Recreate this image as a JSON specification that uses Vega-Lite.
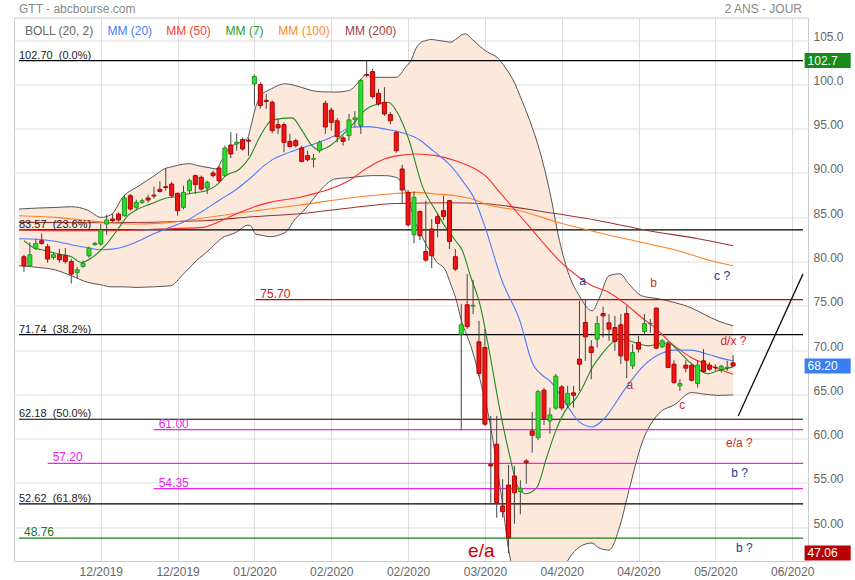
{
"$schema":"https://vega.github.io/schema/vega-lite/v6.json",
"width":855,"height":580,
"autosize":{"type":"fit","contains":"padding"},
"padding":{"left":14,"top":2.5,"right":0,"bottom":3},
"background":"#ffffff",
"config":{"font":"Liberation Sans","view":{"stroke":"#cccccc"}},
"datasets":{
"candles":[
{"i":0,"o":80.54,"h":80.76,"l":78.84,"c":79.52},{"i":1,"o":79.52,"h":82.15,"l":79.40,"c":80.76},{"i":2,"o":81.47,"h":82.54,"l":81.30,"c":82.04},{"i":3,"o":82.34,"h":83.17,"l":81.90,"c":82.04},{"i":4,"o":81.67,"h":82.00,"l":79.86,"c":80.28},{"i":5,"o":80.46,"h":80.99,"l":80.20,"c":80.76},{"i":6,"o":80.76,"h":81.44,"l":79.86,"c":80.19},{"i":7,"o":80.65,"h":81.52,"l":79.74,"c":80.00},{"i":8,"o":80.00,"h":80.31,"l":77.52,"c":78.58},{"i":9,"o":78.76,"h":79.40,"l":78.13,"c":79.07},
{"i":10,"o":79.44,"h":80.10,"l":79.30,"c":79.78},{"i":11,"o":80.65,"h":81.67,"l":80.43,"c":81.52},{"i":12,"o":81.90,"h":82.23,"l":81.78,"c":82.04},{"i":13,"o":81.97,"h":84.23,"l":81.78,"c":83.55},{"i":14,"o":84.23,"h":85.29,"l":83.00,"c":84.69},{"i":15,"o":84.80,"h":85.43,"l":84.40,"c":84.62},{"i":16,"o":85.36,"h":85.55,"l":84.50,"c":84.69},{"i":17,"o":85.17,"h":87.55,"l":85.06,"c":87.17},{"i":18,"o":87.43,"h":87.62,"l":85.74,"c":85.93},{"i":19,"o":86.12,"h":86.98,"l":85.85,"c":86.68},
{"i":20,"o":86.68,"h":87.10,"l":86.50,"c":86.87},{"i":21,"o":87.17,"h":87.55,"l":86.65,"c":86.94},{"i":22,"o":87.50,"h":88.45,"l":87.10,"c":87.40},{"i":23,"o":88.15,"h":89.06,"l":87.80,"c":87.92},{"i":24,"o":88.45,"h":90.56,"l":88.00,"c":88.35},{"i":25,"o":88.75,"h":89.00,"l":87.20,"c":87.43},{"i":26,"o":87.70,"h":87.80,"l":85.17,"c":85.74},{"i":27,"o":86.12,"h":88.56,"l":85.90,"c":87.81},{"i":28,"o":88.00,"h":89.35,"l":87.62,"c":89.13},{"i":29,"o":89.70,"h":89.81,"l":87.62,"c":88.68},
{"i":30,"o":89.51,"h":89.70,"l":88.00,"c":88.19},{"i":31,"o":88.30,"h":89.13,"l":87.62,"c":88.94},{"i":32,"o":90.00,"h":90.26,"l":89.48,"c":89.70},{"i":33,"o":90.56,"h":90.80,"l":88.90,"c":89.13},{"i":34,"o":89.70,"h":93.09,"l":89.58,"c":92.82},{"i":35,"o":93.16,"h":94.60,"l":91.69,"c":92.15},{"i":36,"o":93.28,"h":94.48,"l":92.52,"c":93.47},{"i":37,"o":93.77,"h":93.99,"l":92.52,"c":92.71},{"i":38,"o":93.70,"h":93.96,"l":91.96,"c":93.60},{"i":39,"o":100.06,"h":101.10,"l":97.61,"c":100.89},
{"i":40,"o":99.99,"h":100.24,"l":97.27,"c":97.61},{"i":41,"o":98.20,"h":98.93,"l":97.24,"c":98.08},{"i":42,"o":97.99,"h":98.20,"l":94.48,"c":94.79},{"i":43,"o":95.46,"h":96.10,"l":94.41,"c":95.09},{"i":44,"o":95.46,"h":95.72,"l":92.33,"c":93.46},{"i":45,"o":93.57,"h":94.41,"l":92.86,"c":93.00},{"i":46,"o":93.65,"h":93.88,"l":92.86,"c":93.09},{"i":47,"o":92.83,"h":93.09,"l":91.20,"c":91.31},{"i":48,"o":91.96,"h":92.52,"l":91.31,"c":91.50},{"i":49,"o":91.55,"h":92.15,"l":90.63,"c":91.62},
{"i":50,"o":92.52,"h":93.65,"l":92.29,"c":93.46},{"i":51,"o":97.87,"h":98.18,"l":94.41,"c":95.20},{"i":52,"o":97.10,"h":97.41,"l":94.79,"c":95.72},{"i":53,"o":95.90,"h":96.20,"l":93.46,"c":94.10},{"i":54,"o":93.96,"h":94.22,"l":93.09,"c":93.57},{"i":55,"o":94.22,"h":96.67,"l":93.65,"c":96.00},{"i":56,"o":96.06,"h":96.97,"l":95.20,"c":96.22},{"i":57,"o":95.35,"h":100.63,"l":94.41,"c":100.44},{"i":58,"o":101.10,"h":102.70,"l":100.80,"c":101.05},{"i":59,"o":101.45,"h":101.76,"l":98.40,"c":98.63},
{"i":60,"o":99.00,"h":99.50,"l":97.60,"c":97.80},{"i":61,"o":97.98,"h":99.70,"l":96.45,"c":96.67},{"i":62,"o":96.59,"h":96.90,"l":95.50,"c":95.90},{"i":63,"o":94.59,"h":94.78,"l":92.29,"c":92.52},{"i":64,"o":90.45,"h":90.94,"l":86.56,"c":88.08},{"i":65,"o":87.81,"h":88.08,"l":83.93,"c":84.15},{"i":66,"o":83.02,"h":87.92,"l":82.04,"c":87.24},{"i":67,"o":85.66,"h":85.74,"l":82.42,"c":82.91},{"i":68,"o":81.14,"h":86.87,"l":79.97,"c":80.16},{"i":69,"o":83.67,"h":84.80,"l":79.26,"c":80.65},
{"i":70,"o":85.06,"h":85.28,"l":82.72,"c":84.30},{"i":71,"o":85.74,"h":87.43,"l":84.69,"c":85.10},{"i":72,"o":86.87,"h":86.94,"l":81.41,"c":82.27},{"i":73,"o":80.54,"h":81.41,"l":78.95,"c":79.14},{"i":74,"o":71.79,"h":75.19,"l":60.94,"c":72.85},{"i":75,"o":75.11,"h":78.58,"l":72.39,"c":72.65},{"i":76,"o":74.95,"h":77.90,"l":74.06,"c":75.05},{"i":77,"o":70.92,"h":73.30,"l":67.00,"c":67.34},{"i":78,"o":70.28,"h":72.36,"l":61.43,"c":61.62},{"i":79,"o":57.09,"h":62.55,"l":52.75,"c":56.90},
{"i":80,"o":59.36,"h":62.55,"l":51.06,"c":52.75},{"i":81,"o":52.38,"h":55.40,"l":51.06,"c":51.73},{"i":82,"o":54.75,"h":57.02,"l":47.06,"c":48.80},{"i":83,"o":55.77,"h":56.90,"l":50.38,"c":53.88},{"i":84,"o":54.00,"h":55.29,"l":51.44,"c":54.38},{"i":85,"o":57.47,"h":57.66,"l":54.90,"c":57.28},{"i":86,"o":60.86,"h":63.01,"l":58.41,"c":60.37},{"i":87,"o":60.10,"h":65.50,"l":59.81,"c":65.30},{"i":88,"o":65.46,"h":65.72,"l":61.54,"c":62.30},{"i":89,"o":61.99,"h":63.49,"l":60.55,"c":62.67},
{"i":90,"o":63.43,"h":67.30,"l":63.24,"c":67.05},{"i":91,"o":65.83,"h":66.05,"l":63.20,"c":63.45},{"i":92,"o":63.90,"h":65.95,"l":63.48,"c":65.10},{"i":93,"o":65.16,"h":65.95,"l":63.50,"c":64.89},{"i":94,"o":68.97,"h":75.56,"l":65.38,"c":68.40},{"i":95,"o":73.11,"h":75.64,"l":68.78,"c":71.49},{"i":96,"o":70.36,"h":71.11,"l":66.70,"c":69.71},{"i":97,"o":71.23,"h":73.86,"l":70.28,"c":72.99},{"i":98,"o":74.12,"h":74.88,"l":71.41,"c":73.86},{"i":99,"o":73.07,"h":74.06,"l":71.04,"c":72.36},
{"i":100,"o":72.54,"h":73.86,"l":69.91,"c":70.96},{"i":101,"o":72.85,"h":74.06,"l":68.40,"c":69.34},{"i":102,"o":74.12,"h":75.00,"l":66.82,"c":68.85},{"i":103,"o":68.21,"h":70.66,"l":67.84,"c":69.71},{"i":104,"o":70.85,"h":71.60,"l":69.71,"c":70.10},{"i":105,"o":72.09,"h":74.06,"l":71.79,"c":72.99},{"i":106,"o":72.95,"h":73.49,"l":71.98,"c":73.02},{"i":107,"o":74.73,"h":74.80,"l":70.10,"c":70.21},{"i":108,"o":70.36,"h":71.23,"l":70.21,"c":71.04},{"i":109,"o":70.66,"h":71.04,"l":67.95,"c":68.02},
{"i":110,"o":68.40,"h":68.85,"l":66.21,"c":66.32},{"i":111,"o":65.95,"h":66.70,"l":65.38,"c":66.21},{"i":112,"o":68.29,"h":68.85,"l":67.46,"c":67.95},{"i":113,"o":68.29,"h":68.47,"l":66.43,"c":66.59},{"i":114,"o":66.21,"h":68.78,"l":65.76,"c":68.29},{"i":115,"o":68.78,"h":70.10,"l":67.46,"c":67.57},{"i":116,"o":68.29,"h":68.59,"l":67.65,"c":67.84},{"i":117,"o":68.05,"h":68.40,"l":67.65,"c":68.00},{"i":118,"o":67.79,"h":68.32,"l":67.46,"c":68.17},{"i":119,"o":68.00,"h":68.78,"l":67.65,"c":68.05},
{"i":120,"o":68.55,"h":69.42,"l":68.10,"c":68.20}
],
"band":[
{"i":-0.84,"up":85.93,"lo":79.52},{"i":2.35,"up":86.04,"lo":79.33},{"i":5.19,"up":86.10,"lo":79.07},{"i":8.04,"up":86.19,"lo":78.38},{"i":10.72,"up":85.82,"lo":77.66},{"i":13.07,"up":84.98,"lo":77.36},{"i":14.74,"up":85.29,"lo":77.14},{"i":16.92,"up":87.43,"lo":77.14},{"i":19.10,"up":88.40,"lo":77.07},{"i":20.77,"up":89.13,"lo":77.11},{"i":21.94,"up":89.63,"lo":77.14},{"i":24.12,"up":90.57,"lo":77.22},{"i":24.79,"up":90.66,"lo":77.26},{"i":26.97,"up":91.00,"lo":78.58},{"i":28.14,"up":91.05,"lo":79.37},{"i":29.15,"up":90.88,"lo":80.08},{"i":30.32,"up":90.71,"lo":80.71},{"i":31.49,"up":90.58,"lo":81.41},{"i":32.50,"up":90.45,"lo":82.06},{"i":33.67,"up":91.68,"lo":82.72},{"i":34.84,"up":92.90,"lo":83.02},{"i":35.85,"up":93.26,"lo":83.28},{"i":36.52,"up":93.46,"lo":83.59},{"i":37.86,"up":93.96,"lo":84.10},{"i":38.36,"up":95.16,"lo":84.04},{"i":39.20,"up":97.42,"lo":83.10},{"i":40.37,"up":98.93,"lo":82.95},{"i":41.54,"up":99.39,"lo":82.80},{"i":44.22,"up":100.07,"lo":83.28},{"i":45.90,"up":99.87,"lo":84.80},{"i":47.07,"up":99.65,"lo":85.55},{"i":48.74,"up":99.31,"lo":86.87},{"i":50.42,"up":99.17,"lo":88.23},{"i":52.60,"up":99.14,"lo":89.32},{"i":54.94,"up":99.31,"lo":89.47},{"i":57.12,"up":100.63,"lo":89.62},{"i":57.96,"up":101.20,"lo":89.67},{"i":58.79,"up":100.81,"lo":89.70},{"i":60.97,"up":100.81,"lo":89.70},{"i":62.98,"up":100.81,"lo":89.50},{"i":64.66,"up":102.02,"lo":87.81},{"i":65.49,"up":102.70,"lo":86.02},{"i":66.33,"up":104.06,"lo":84.23},{"i":67.17,"up":104.74,"lo":83.10},{"i":68.01,"up":104.96,"lo":81.97},{"i":68.84,"up":105.08,"lo":81.02},{"i":69.68,"up":105.02,"lo":80.08},{"i":71.36,"up":104.85,"lo":78.95},{"i":72.19,"up":104.77,"lo":77.48},{"i":73.03,"up":105.08,"lo":75.93},{"i":74.20,"up":105.64,"lo":72.93},{"i":74.71,"up":105.72,"lo":72.06},{"i":75.88,"up":105.08,"lo":69.91},{"i":77.22,"up":104.28,"lo":66.52},{"i":78.06,"up":103.83,"lo":64.25},{"i":78.89,"up":103.49,"lo":61.65},{"i":80.07,"up":103.07,"lo":56.71},{"i":81.07,"up":102.25,"lo":52.19},{"i":81.91,"up":101.46,"lo":47.86},{"i":83.08,"up":100.10,"lo":44.46},{"i":83.92,"up":98.74,"lo":43.33},{"i":85.59,"up":95.92,"lo":41.64},{"i":87.27,"up":92.52,"lo":41.86},{"i":88.94,"up":88.00,"lo":42.77},{"i":90.62,"up":82.35,"lo":44.46},{"i":92.29,"up":78.39,"lo":46.50},{"i":93.97,"up":76.13,"lo":47.74},{"i":96.15,"up":74.43,"lo":48.20},{"i":97.32,"up":75.79,"lo":47.63},{"i":99.00,"up":78.39,"lo":47.40},{"i":100.84,"up":78.61,"lo":50.12},{"i":102.35,"up":77.48,"lo":54.08},{"i":104.52,"up":76.13,"lo":59.39},{"i":107.37,"up":75.79,"lo":62.78},{"i":110.22,"up":75.34,"lo":63.88},{"i":112.90,"up":74.77,"lo":65.19},{"i":115.24,"up":73.98,"lo":65.01},{"i":117.42,"up":73.30,"lo":64.88},{"i":120.00,"up":72.73,"lo":64.93}
],
"mas":[
{"s":"MM (200)","i":-0.84,"v":84.42},{"s":"MM (200)","i":13.57,"v":84.38},{"s":"MM (200)","i":30.32,"v":84.61},{"s":"MM (200)","i":38.69,"v":85.06},{"s":"MM (200)","i":47.07,"v":85.43},{"s":"MM (200)","i":55.44,"v":86.08},{"s":"MM (200)","i":62.98,"v":86.56},{"s":"MM (200)","i":72.19,"v":86.64},{"s":"MM (200)","i":78.06,"v":86.53},{"s":"MM (200)","i":88.94,"v":85.51},{"s":"MM (200)","i":97.32,"v":84.61},{"s":"MM (200)","i":105.70,"v":83.48},{"s":"MM (200)","i":114.07,"v":82.57},{"s":"MM (200)","i":120,"v":81.78},
{"s":"MM (100)","i":-0.84,"v":85.17},{"s":"MM (100)","i":5.19,"v":84.98},{"s":"MM (100)","i":13.57,"v":84.42},{"s":"MM (100)","i":19.10,"v":84.23},{"s":"MM (100)","i":24.79,"v":84.42},{"s":"MM (100)","i":30.32,"v":84.91},{"s":"MM (100)","i":35.85,"v":85.43},{"s":"MM (100)","i":41.54,"v":85.93},{"s":"MM (100)","i":47.07,"v":86.42},{"s":"MM (100)","i":55.44,"v":87.21},{"s":"MM (100)","i":62.98,"v":87.69},{"s":"MM (100)","i":66.33,"v":87.81},{"s":"MM (100)","i":69.68,"v":87.63},{"s":"MM (100)","i":73.03,"v":87.43},{"s":"MM (100)","i":76.38,"v":86.95},{"s":"MM (100)","i":78.06,"v":86.50},{"s":"MM (100)","i":83.92,"v":85.74},{"s":"MM (100)","i":90.62,"v":84.38},{"s":"MM (100)","i":97.32,"v":83.25},{"s":"MM (100)","i":104.02,"v":82.23},{"s":"MM (100)","i":110.72,"v":81.22},{"s":"MM (100)","i":116.25,"v":80.08},{"s":"MM (100)","i":120,"v":79.52},
{"s":"MM (50)","i":-0.84,"v":83.59},{"s":"MM (50)","i":5.19,"v":83.48},{"s":"MM (50)","i":13.57,"v":83.48},{"s":"MM (50)","i":21.94,"v":83.65},{"s":"MM (50)","i":30.32,"v":83.85},{"s":"MM (50)","i":33.00,"v":84.49},{"s":"MM (50)","i":35.85,"v":85.37},{"s":"MM (50)","i":38.69,"v":86.11},{"s":"MM (50)","i":41.54,"v":86.68},{"s":"MM (50)","i":47.07,"v":87.32},{"s":"MM (50)","i":54.94,"v":89.13},{"s":"MM (50)","i":58.29,"v":90.64},{"s":"MM (50)","i":60.97,"v":91.58},{"s":"MM (50)","i":63.32,"v":91.96},{"s":"MM (50)","i":66.33,"v":92.15},{"s":"MM (50)","i":69.68,"v":91.96},{"s":"MM (50)","i":73.03,"v":91.39},{"s":"MM (50)","i":76.38,"v":90.45},{"s":"MM (50)","i":78.06,"v":89.70},{"s":"MM (50)","i":80.57,"v":87.77},{"s":"MM (50)","i":83.92,"v":85.17},{"s":"MM (50)","i":87.27,"v":82.57},{"s":"MM (50)","i":90.62,"v":80.08},{"s":"MM (50)","i":93.97,"v":78.20},{"s":"MM (50)","i":96.15,"v":77.26},{"s":"MM (50)","i":99.00,"v":76.50},{"s":"MM (50)","i":101.84,"v":75.19},{"s":"MM (50)","i":104.52,"v":73.67},{"s":"MM (50)","i":107.37,"v":72.17},{"s":"MM (50)","i":109.05,"v":71.04},{"s":"MM (50)","i":111.22,"v":69.91},{"s":"MM (50)","i":112.90,"v":69.15},{"s":"MM (50)","i":115.75,"v":68.32},{"s":"MM (50)","i":120,"v":67.27},
{"s":"MM (20)","i":-0.84,"v":82.57},{"s":"MM (20)","i":2.35,"v":82.52},{"s":"MM (20)","i":5.19,"v":82.29},{"s":"MM (20)","i":8.04,"v":81.89},{"s":"MM (20)","i":10.72,"v":81.55},{"s":"MM (20)","i":13.07,"v":81.33},{"s":"MM (20)","i":15.91,"v":81.50},{"s":"MM (20)","i":18.76,"v":82.12},{"s":"MM (20)","i":21.44,"v":82.97},{"s":"MM (20)","i":24.29,"v":83.76},{"s":"MM (20)","i":27.47,"v":84.61},{"s":"MM (20)","i":30.32,"v":85.74},{"s":"MM (20)","i":33.17,"v":86.98},{"s":"MM (20)","i":35.85,"v":88.11},{"s":"MM (20)","i":38.19,"v":89.36},{"s":"MM (20)","i":40.87,"v":90.94},{"s":"MM (20)","i":42.04,"v":91.51},{"s":"MM (20)","i":44.22,"v":92.15},{"s":"MM (20)","i":47.07,"v":92.83},{"s":"MM (20)","i":49.92,"v":93.46},{"s":"MM (20)","i":52.60,"v":94.22},{"s":"MM (20)","i":55.44,"v":95.16},{"s":"MM (20)","i":58.29,"v":95.24},{"s":"MM (20)","i":60.97,"v":94.98},{"s":"MM (20)","i":63.82,"v":94.59},{"s":"MM (20)","i":67.17,"v":93.65},{"s":"MM (20)","i":69.18,"v":92.52},{"s":"MM (20)","i":71.86,"v":91.05},{"s":"MM (20)","i":74.20,"v":89.13},{"s":"MM (20)","i":76.38,"v":86.87},{"s":"MM (20)","i":78.06,"v":83.82},{"s":"MM (20)","i":80.90,"v":77.82},{"s":"MM (20)","i":83.92,"v":73.30},{"s":"MM (20)","i":86.10,"v":68.44},{"s":"MM (20)","i":89.45,"v":66.18},{"s":"MM (20)","i":92.29,"v":63.35},{"s":"MM (20)","i":93.97,"v":61.88},{"s":"MM (20)","i":96.15,"v":61.31},{"s":"MM (20)","i":97.82,"v":61.99},{"s":"MM (20)","i":101.84,"v":65.72},{"s":"MM (20)","i":104.52,"v":67.99},{"s":"MM (20)","i":107.37,"v":69.46},{"s":"MM (20)","i":110.22,"v":69.99},{"s":"MM (20)","i":112.90,"v":69.99},{"s":"MM (20)","i":115.75,"v":69.53},{"s":"MM (20)","i":118.59,"v":68.97},{"s":"MM (20)","i":120,"v":68.78},
{"s":"MM (7)","i":0,"v":82.35},{"s":"MM (7)","i":1.34,"v":81.67},{"s":"MM (7)","i":3.69,"v":81.22},{"s":"MM (7)","i":5.86,"v":80.84},{"s":"MM (7)","i":8.04,"v":80.54},{"s":"MM (7)","i":9.72,"v":79.89},{"s":"MM (7)","i":11.39,"v":80.39},{"s":"MM (7)","i":13.74,"v":81.78},{"s":"MM (7)","i":15.91,"v":83.67},{"s":"MM (7)","i":17.59,"v":85.17},{"s":"MM (7)","i":19.26,"v":85.93},{"s":"MM (7)","i":21.44,"v":86.50},{"s":"MM (7)","i":24.12,"v":87.17},{"s":"MM (7)","i":25.80,"v":87.32},{"s":"MM (7)","i":28.14,"v":87.69},{"s":"MM (7)","i":30.82,"v":88.00},{"s":"MM (7)","i":32.50,"v":88.57},{"s":"MM (7)","i":34.17,"v":89.70},{"s":"MM (7)","i":36.52,"v":90.45},{"s":"MM (7)","i":38.19,"v":91.77},{"s":"MM (7)","i":39.87,"v":94.03},{"s":"MM (7)","i":40.87,"v":95.16},{"s":"MM (7)","i":42.04,"v":96.00},{"s":"MM (7)","i":45.39,"v":96.22},{"s":"MM (7)","i":47.07,"v":94.78},{"s":"MM (7)","i":48.74,"v":93.09},{"s":"MM (7)","i":49.92,"v":92.60},{"s":"MM (7)","i":51.59,"v":92.98},{"s":"MM (7)","i":53.77,"v":94.22},{"s":"MM (7)","i":55.95,"v":95.72},{"s":"MM (7)","i":57.62,"v":97.05},{"s":"MM (7)","i":59.97,"v":97.80},{"s":"MM (7)","i":61.64,"v":97.99},{"s":"MM (7)","i":63.32,"v":96.67},{"s":"MM (7)","i":64.99,"v":94.03},{"s":"MM (7)","i":67.50,"v":88.37},{"s":"MM (7)","i":69.68,"v":85.74},{"s":"MM (7)","i":71.36,"v":83.85},{"s":"MM (7)","i":73.03,"v":82.35},{"s":"MM (7)","i":74.20,"v":81.22},{"s":"MM (7)","i":75.54,"v":78.39},{"s":"MM (7)","i":77.22,"v":75.00},{"s":"MM (7)","i":78.89,"v":69.34},{"s":"MM (7)","i":80.57,"v":63.12},{"s":"MM (7)","i":82.24,"v":57.92},{"s":"MM (7)","i":83.58,"v":54.53},{"s":"MM (7)","i":84.92,"v":53.77},{"s":"MM (7)","i":86.77,"v":54.45},{"s":"MM (7)","i":88.44,"v":57.84},{"s":"MM (7)","i":90.12,"v":61.09},{"s":"MM (7)","i":91.79,"v":63.35},{"s":"MM (7)","i":93.47,"v":64.59},{"s":"MM (7)","i":94.47,"v":65.72},{"s":"MM (7)","i":96.15,"v":67.99},{"s":"MM (7)","i":97.82,"v":69.57},{"s":"MM (7)","i":99.50,"v":70.81},{"s":"MM (7)","i":100.67,"v":71.26},{"s":"MM (7)","i":102.35,"v":71.04},{"s":"MM (7)","i":104.02,"v":70.70},{"s":"MM (7)","i":105.70,"v":70.47},{"s":"MM (7)","i":107.37,"v":70.70},{"s":"MM (7)","i":109.05,"v":70.81},{"s":"MM (7)","i":110.72,"v":69.91},{"s":"MM (7)","i":112.40,"v":68.78},{"s":"MM (7)","i":114.07,"v":67.87},{"s":"MM (7)","i":115.75,"v":67.31},{"s":"MM (7)","i":117.42,"v":67.65},{"s":"MM (7)","i":120,"v":68.10}
],
"levels":[
{"v":102.70,"x1":-0.84,"lx":-0.84,"lbl":"102.70\u00a0\u00a0(0.0%)","k":"fib"},
{"v":83.57,"x1":-0.84,"lx":-0.84,"lbl":"83.57\u00a0\u00a0(23.6%)","k":"fib"},
{"v":71.74,"x1":-0.84,"lx":-0.84,"lbl":"71.74\u00a0\u00a0(38.2%)","k":"fib"},
{"v":62.18,"x1":-0.84,"lx":-0.84,"lbl":"62.18\u00a0\u00a0(50.0%)","k":"fib"},
{"v":52.62,"x1":-0.84,"lx":-0.84,"lbl":"52.62\u00a0\u00a0(61.8%)","k":"fib"},
{"v":48.76,"x1":-0.84,"lx":0.0,"lbl":"48.76","k":"sup"},
{"v":75.70,"x1":39.2,"lx":40.0,"lbl":"75.70","k":"res"},
{"v":61.00,"x1":21.94,"lx":22.8,"lbl":"61.00","k":"mag"},
{"v":57.20,"x1":4.02,"lx":4.86,"lbl":"57.20","k":"mag"},
{"v":54.35,"x1":21.94,"lx":22.8,"lbl":"54.35","k":"mag"}
],
"diag":[{"i":120.87,"v":62.55},{"i":131.83,"v":78.6}],
"notes":[
{"i":94.52,"v":77.82,"t":"a","k":"blue"},
{"i":106.53,"v":77.52,"t":"b","k":"red"},
{"i":118.14,"v":78.39,"t":"c ?","k":"blue"},
{"i":120.05,"v":71.04,"t":"d/x ?","k":"red"},
{"i":102.52,"v":66.06,"t":"a","k":"red"},
{"i":111.39,"v":63.80,"t":"c","k":"red"},
{"i":121.06,"v":59.54,"t":"e/a ?","k":"red"},
{"i":121.1,"v":56.11,"t":"b ?","k":"blue"},
{"i":121.9,"v":47.63,"t":"b ?","k":"blue"}
],
"big":[{"i":77.39,"v":47.29,"t":"e/a"}],
"legendrow":[
{"i":0.17,"t":"BOLL (20, 2)","k":"BOLL (20, 2)"},
{"i":14.12,"t":"MM (20)","k":"MM (20)"},
{"i":24.06,"t":"MM (50)","k":"MM (50)"},
{"i":34.12,"t":"MM (7)","k":"MM (7)"},
{"i":43.05,"t":"MM (100)","k":"MM (100)"},
{"i":54.32,"t":"MM (200)","k":"MM (200)"}
],
"marks":[
{"v":102.7,"t":"102.7","k":"max"},
{"v":68.2,"t":"68.20","k":"last"},
{"v":47.06,"t":"47.06","k":"min"}
],
"headleft":[{"i":-0.84,"v":108.47,"t":"GTT - abcbourse.com"}],
"headright":[{"i":131.66,"v":108.47,"t":"2 ANS - JOUR"}]
},
"layer":[
{"data":{"name":"band"},"mark":{"type":"area","fill":"#fde8dc","clip":true,"interpolate":"monotone"},
 "encoding":{
  "x":{"field":"i","type":"quantitative","title":null,"scale":{"domain":[-0.84,131.83],"nice":false,"zero":false},
   "axis":{"values":[13,26,39,52,65,78,91,104,117,130],"labelExpr":"['12/2019','12/2019','01/2020','02/2020','02/2020','03/2020','04/2020','04/2020','05/2020','06/2020'][round(datum.value/13)-1]","grid":true,"gridColor":"#dddddd","domain":false,"ticks":false,"labelColor":"#666666","labelFontSize":12,"labelPadding":5,"labelOverlap":false,"labelFlush":false}},
  "y":{"field":"up","type":"quantitative","title":null,"scale":{"domain":[46.73,107],"nice":false,"zero":false},
   "axis":{"orient":"right","values":[50,55,60,65,70,75,80,85,90,95,100,105],"format":".4r","grid":true,"gridColor":"#dddddd","domain":false,"ticks":false,"labelColor":"#666666","labelFontSize":12,"labelPadding":5,"labelBaseline":"alphabetic","labelOverlap":false,"labelFlush":false}},
  "y2":{"field":"lo"}}},
{"data":{"name":"band"},"mark":{"type":"line","color":"#555555","strokeWidth":1,"clip":true,"interpolate":"monotone"},
 "encoding":{"x":{"field":"i","type":"quantitative","title":null},"y":{"field":"up","type":"quantitative","title":null}}},
{"data":{"name":"band"},"mark":{"type":"line","color":"#555555","strokeWidth":1,"clip":true,"interpolate":"monotone"},
 "encoding":{"x":{"field":"i","type":"quantitative","title":null},"y":{"field":"lo","type":"quantitative","title":null}}},
{"data":{"name":"levels"},"mark":{"type":"rule","strokeWidth":1.2},
 "encoding":{"x":{"field":"x1","type":"quantitative","title":null},"x2":{"datum":131.83},"y":{"field":"v","type":"quantitative","title":null},
  "color":{"field":"k","type":"nominal","legend":null,"scale":{"domain":["fib","sup","res","mag","max","last","min"],"range":["#000000","#1a7a1a","#c80000","#ee22ee","#178a17","#3a7ef0","#b80000"]}}}},
{"data":{"name":"mas"},"mark":{"type":"line","strokeWidth":1.1,"clip":true,"interpolate":"monotone"},
 "encoding":{"x":{"field":"i","type":"quantitative","title":null},"y":{"field":"v","type":"quantitative","title":null},
  "stroke":{"field":"s","type":"nominal","legend":null,"scale":{"domain":["BOLL (20, 2)","MM (20)","MM (50)","MM (7)","MM (100)","MM (200)"],"range":["#666666","#4a7bff","#ff2a2a","#1e8c1e","#ff8020","#993333"]}}}},
{"data":{"name":"diag"},"mark":{"type":"line","color":"#111111","strokeWidth":1.3,"clip":true},
 "encoding":{"x":{"field":"i","type":"quantitative","title":null},"y":{"field":"v","type":"quantitative","title":null}}},
{"data":{"name":"candles"},"mark":{"type":"rule","color":"#444444","strokeWidth":1},
 "encoding":{"x":{"field":"i","type":"quantitative","title":null},"y":{"field":"l","type":"quantitative","title":null},"y2":{"field":"h"}}},
{"data":{"name":"candles"},"mark":{"type":"bar","size":4,"strokeWidth":1},
 "encoding":{"x":{"field":"i","type":"quantitative","title":null},"y":{"field":"o","type":"quantitative","title":null},"y2":{"field":"c"},
  "fill":{"condition":{"test":"datum.c >= datum.o","value":"#2edc2e"},"value":"#ee1515"},
  "stroke":{"condition":{"test":"datum.c >= datum.o","value":"#1f9a1f"},"value":"#b00000"}}},
{"data":{"name":"levels"},"mark":{"type":"text","align":"left","baseline":"alphabetic","dy":-2},
 "encoding":{"x":{"field":"lx","type":"quantitative","title":null},"y":{"field":"v","type":"quantitative","title":null},"text":{"field":"lbl"},
  "size":{"condition":{"test":"datum.k === 'fib'","value":11},"value":12},
  "fill":{"field":"k","type":"nominal","legend":null,"scale":{"domain":["fib","sup","res","mag","red","blue","BOLL (20, 2)","MM (20)","MM (50)","MM (7)","MM (100)","MM (200)"],"range":["#222222","#1a7a1a","#d01818","#ee22ee","#cc2a2a","#283593","#666666","#4a7bff","#ff3a3a","#2a9a2a","#ff8a2a","#a04040"]}}}},
{"data":{"name":"notes"},"mark":{"type":"text","align":"center","baseline":"middle","fontSize":12},
 "encoding":{"x":{"field":"i","type":"quantitative","title":null},"y":{"field":"v","type":"quantitative","title":null},"text":{"field":"t"},
  "fill":{"field":"k","type":"nominal","legend":null,"scale":{"domain":["fib","sup","res","mag","red","blue","BOLL (20, 2)","MM (20)","MM (50)","MM (7)","MM (100)","MM (200)"],"range":["#222222","#1a7a1a","#d01818","#ee22ee","#cc2a2a","#283593","#666666","#4a7bff","#ff3a3a","#2a9a2a","#ff8a2a","#a04040"]}}}},
{"data":{"name":"big"},"mark":{"type":"text","align":"center","baseline":"middle","fontSize":19,"color":"#cc0000"},
 "encoding":{"x":{"field":"i","type":"quantitative","title":null},"y":{"field":"v","type":"quantitative","title":null},"text":{"field":"t"}}},
{"data":{"name":"legendrow"},"mark":{"type":"text","align":"left","baseline":"middle","fontSize":12},
 "encoding":{"x":{"field":"i","type":"quantitative","title":null},"y":{"datum":106.09},"text":{"field":"t"},
  "fill":{"field":"k","type":"nominal","legend":null,"scale":{"domain":["fib","sup","res","mag","red","blue","BOLL (20, 2)","MM (20)","MM (50)","MM (7)","MM (100)","MM (200)"],"range":["#222222","#1a7a1a","#d01818","#ee22ee","#cc2a2a","#283593","#666666","#4a7bff","#ff3a3a","#2a9a2a","#ff8a2a","#a04040"]}}}},
{"data":{"name":"marks"},"mark":{"type":"bar","orient":"horizontal","size":15},
 "encoding":{"x":{"datum":132.1},"x2":{"datum":139.9},"y":{"field":"v","type":"quantitative","title":null},
  "color":{"field":"k","type":"nominal","legend":null,"scale":{"domain":["fib","sup","res","mag","max","last","min"],"range":["#000000","#1a7a1a","#c80000","#ee22ee","#178a17","#3a7ef0","#b80000"]}}}},
{"data":{"name":"marks"},"mark":{"type":"text","align":"left","baseline":"middle","fontSize":12,"color":"#ffffff","dx":3},
 "encoding":{"x":{"datum":132.1},"y":{"field":"v","type":"quantitative","title":null},"text":{"field":"t"}}},
{"data":{"name":"headleft"},"mark":{"type":"text","align":"left","baseline":"middle","fontSize":12,"color":"#888888"},
 "encoding":{"x":{"field":"i","type":"quantitative","title":null},"y":{"field":"v","type":"quantitative","title":null},"text":{"field":"t"}}},
{"data":{"name":"headright"},"mark":{"type":"text","align":"right","baseline":"middle","fontSize":12,"color":"#888888"},
 "encoding":{"x":{"field":"i","type":"quantitative","title":null},"y":{"field":"v","type":"quantitative","title":null},"text":{"field":"t"}}}
]
}
